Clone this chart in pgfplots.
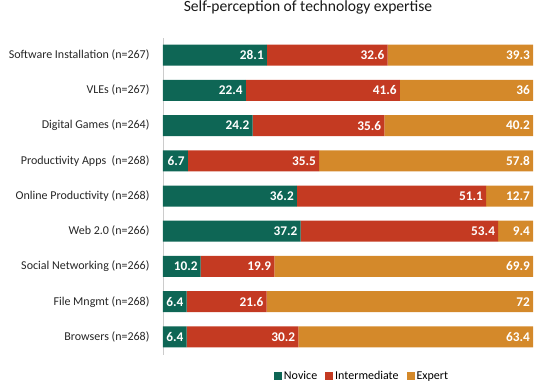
\documentclass[border=0pt]{standalone}
\usepackage{fontspec}
\setmainfont{Carlito}
\usepackage{pgfplots}
\pgfplotsset{compat=1.18}
\definecolor{nov}{HTML}{0E6655}
\definecolor{inter}{HTML}{C43A22}
\definecolor{expc}{HTML}{D4892A}
\pgfplotsset{common/.style={at={(0,0)}, anchor=south west,
 scale only axis, width=370pt, height=317pt,
 xmin=0, xmax=100, ymin=-0.5, ymax=8.5}}
\begin{document}
\begin{tikzpicture}
\path[use as bounding box] (-163pt,-36.5pt) rectangle (383pt,354.5pt);
\begin{axis}[
 common,
 xbar stacked, bar width=21pt,
 axis x line=none, axis y line*=left,
 y axis line style={black!20, -},
 ytick={0,...,8},
 yticklabels={Browsers (n=268),File Mngmt (n=268),Social Networking (n=266),Web 2.0 (n=266),Online Productivity (n=268),Productivity Apps\ \ (n=268),Digital Games (n=264),VLEs (n=267),Software Installation (n=267)},
 major tick length=0pt,
 yticklabel style={font=\fontsize{12}{14}\selectfont, text=black!85, xshift=-10pt},
 title={Self-perception of technology expertise},
 title style={at={(0.392,1)}, anchor=base, yshift=19.5pt, font=\fontsize{15.6}{18}\selectfont, text=black!90},
 legend style={at={(rel axis cs:0.538,0)}, yshift=-21.5pt, anchor=center, draw=none, fill=none, legend columns=3, font=\fontsize{12}{14}\selectfont, /tikz/every even column/.append style={column sep=6pt}},
 legend cell align=left,
]
\addplot[fill=nov, draw=none, legend image code/.code={\fill[nov] (0pt,-4pt) rectangle (8pt,4pt);}] coordinates {
 (6.4,0) (6.4,1) (10.2,2) (37.2,3) (36.2,4) (6.7,5) (24.2,6) (22.4,7) (28.1,8)};
\addplot[fill=inter, draw=none, legend image code/.code={\fill[inter] (0pt,-4pt) rectangle (8pt,4pt);}] coordinates {
 (30.2,0) (21.6,1) (19.9,2) (53.4,3) (51.1,4) (35.5,5) (35.6,6) (41.6,7) (32.6,8)};
\addplot[fill=expc, draw=none, legend image code/.code={\fill[expc] (0pt,-4pt) rectangle (8pt,4pt);}] coordinates {
 (63.4,0) (72,1) (69.9,2) (9.4,3) (12.7,4) (57.8,5) (40.2,6) (36,7) (39.3,8)};
\legend{Novice,Intermediate,Expert}
\end{axis}
% value labels at the end of each segment (cumulative positions)
\begin{axis}[common, hide axis, clip=false,
  point meta=explicit symbolic,
  lbl/.style={only marks, mark=none, draw=none, nodes near coords,
   every node near coord/.append style={anchor=east, text=white, font=\bfseries\fontsize{13.3}{15}\selectfont, inner sep=3pt}}]
\addplot[lbl] coordinates {
 (6.4,0) [6.4] (6.4,1) [6.4] (10.2,2) [10.2] (37.2,3) [37.2] (36.2,4) [36.2]
 (6.7,5) [6.7] (24.2,6) [24.2] (22.4,7) [22.4] (28.1,8) [28.1]};
\addplot[lbl] coordinates {
 (36.6,0) [30.2] (28.0,1) [21.6] (30.1,2) [19.9] (90.6,3) [53.4] (87.3,4) [51.1]
 (42.2,5) [35.5] (59.8,6) [35.6] (64.0,7) [41.6] (60.7,8) [32.6]};
\addplot[lbl] coordinates {
 (100,0) [63.4] (100,1) [72] (100,2) [69.9] (100,3) [9.4] (100,4) [12.7]
 (100,5) [57.8] (100,6) [40.2] (100,7) [36] (100,8) [39.3]};
\end{axis}
\end{tikzpicture}
\end{document}
